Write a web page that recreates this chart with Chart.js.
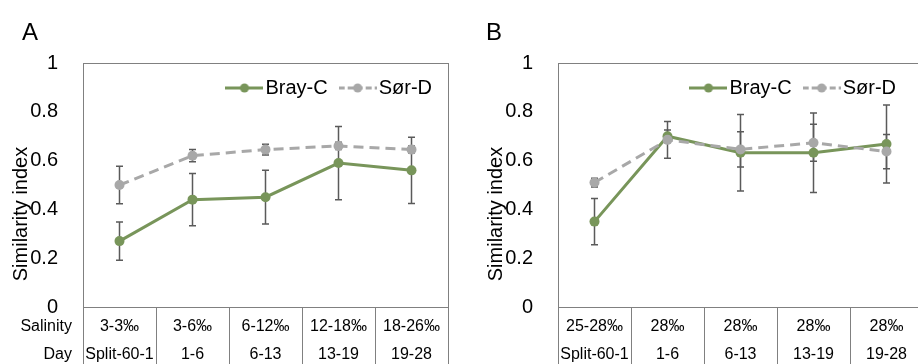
<!DOCTYPE html>
<html>
<head>
<meta charset="utf-8">
<script src="https://cdn.jsdelivr.net/npm/chart.js@4.4.0/dist/chart.umd.min.js"></script>
<style>
html,body{margin:0;padding:0;background:#fff;overflow:hidden;width:918px;height:364px;position:relative}
.panel{position:absolute;top:0;width:460px;height:364px}
.tag{position:absolute;top:20px;font:24px 'Liberation Sans',Arial,sans-serif;line-height:24px;color:#000}
</style>
</head>
<body>
<div class="panel" style="left:0"><canvas id="chartA" width="460" height="364"></canvas></div>
<div class="panel" style="left:475px"><canvas id="chartB" width="460" height="364"></canvas></div>
<div class="tag" style="left:22px">A</div>
<div class="tag" style="left:486px">B</div>
<script>
// data
const days = ['Split-60-1','1-6','6-13','13-19','19-28'];
const salinityA = ['3-3‰','3-6‰','6-12‰','12-18‰','18-26‰'];
const salinityB = ['25-28‰','28‰','28‰','28‰','28‰'];
const yTicks = [0,0.2,0.4,0.6,0.8,1];

const brayA = [0.27,0.44,0.45,0.59,0.56];
const brayAErr = [0.078,0.107,0.11,0.15,0.136];
const sorA = [0.50,0.62,0.645,0.66,0.645];
const sorAErr = [0.077,0.025,0.022,0.015,0.015];

const brayB = [0.35,0.70,0.632,0.632,0.668];
const brayBErr = [0.095,0.025,0.157,0.163,0.16];
const sorB = [0.51,0.685,0.646,0.673,0.637];
const sorBErr = [0.018,0.075,0.072,0.076,0.07];

const GREEN='#78955a', GREY='#a8a8a8', BAR='#5a5a5a', FRAME='#808080';
const FONT="'Liberation Sans', Arial, sans-serif";

function legendSymbol(color,dash){
 const c=document.createElement('canvas');
 c.width=38;c.height=12;
 const g=c.getContext('2d');
 g.strokeStyle=color;g.lineWidth=3;g.setLineDash(dash);
 g.beginPath();g.moveTo(0,6);g.lineTo(38,6);g.stroke();
 g.fillStyle=color;g.beginPath();g.arc(19,6,4.5,0,Math.PI*2);g.fill();
 return c;
}
const symbols=[legendSymbol(GREEN,[]),legendSymbol(GREY,[6,3])];

const errorBars={
 id:'errorBars',
 beforeDatasetsDraw(chart,args,opts){
  const ctx=chart.ctx, y=chart.scales.y;
  ctx.save();
  ctx.strokeStyle=BAR;ctx.lineWidth=1.5;
  chart.data.datasets.forEach((ds,i)=>{
   const errs=opts.errors[i];
   chart.getDatasetMeta(i).data.forEach((pt,j)=>{
    const v=ds.data[j], e=errs[j];
    const t=y.getPixelForValue(v+e), b=y.getPixelForValue(v-e), x=pt.x;
    ctx.beginPath();
    ctx.moveTo(x,t);ctx.lineTo(x,b);
    ctx.moveTo(x-3.5,t);ctx.lineTo(x+3.5,t);
    ctx.moveTo(x-3.5,b);ctx.lineTo(x+3.5,b);
    ctx.stroke();
   });
  });
  ctx.restore();
 }
};

const frame={
 id:'frame',
 beforeDatasetsDraw(chart){
  const a=chart.chartArea, ctx=chart.ctx;
  ctx.save();
  ctx.strokeStyle=FRAME;ctx.lineWidth=1;
  ctx.strokeRect(Math.round(a.left)+0.5,Math.round(a.top)+0.5,Math.round(a.right-a.left),Math.round(a.bottom-a.top));
  ctx.restore();
 },
 afterDraw(chart,args,opts){
  const ctx=chart.ctx, a=chart.chartArea, xs=chart.scales.x;
  ctx.save();
  ctx.fillStyle='#000';
  ctx.font='20px '+FONT;
  ctx.translate(21,214);
  ctx.rotate(-Math.PI/2);
  ctx.textAlign='center';ctx.textBaseline='middle';
  ctx.fillText('Similarity index',0,0);
  ctx.restore();

  // legend, top right inside the plot
  ctx.save();
  ctx.font='20px '+FONT;ctx.fillStyle='#000';
  ctx.textAlign='left';ctx.textBaseline='middle';
  let x=a.right-opts.legendRight;
  const ly=a.top+25;
  for(let i=chart.data.datasets.length-1;i>=0;i--){
   const txt=chart.data.datasets[i].label;
   const w=ctx.measureText(txt).width;
   x-=w;
   ctx.fillText(txt,x,ly);
   x-=2+symbols[i].width;
   ctx.drawImage(symbols[i],x,ly-6);
   x-=11;
  }
  ctx.restore();

  if(opts.rowLabels){
   ctx.save();
   ctx.fillStyle='#000';ctx.font='16px '+FONT;
   ctx.textAlign='right';ctx.textBaseline='middle';
   ctx.fillText('Salinity',a.left-11,xs.top+19.5);
   ctx.fillText('Day',a.left-11,xs.top+47.5);
   ctx.restore();
  }
 }
};

function makeChart(id,sal,bray,brayErr,sor,sorErr,rowLabels,legendRight){
 return new Chart(document.getElementById(id),{
  type:'line',
  data:{
   labels:days.map((d,i)=>[sal[i],d]),
   datasets:[
    {label:'Bray-C',data:bray,borderColor:GREEN,backgroundColor:GREEN,borderWidth:3,pointRadius:5,pointBorderWidth:0,pointBackgroundColor:GREEN,order:1},
    {label:'Sør-D',data:sor,borderColor:GREY,backgroundColor:GREY,borderWidth:3,borderDash:[10,6],pointRadius:5,pointBorderWidth:0,pointBackgroundColor:GREY,order:0}
   ]
  },
  options:{
   responsive:false,animation:false,
   layout:{padding:{top:63,right:12,bottom:0,left:0}},
   plugins:{
    tooltip:{enabled:false},
    legend:{display:false},
    errorBars:{errors:[brayErr,sorErr]},
    frame:{rowLabels:rowLabels,legendRight:legendRight}
   },
   scales:{
    x:{
     type:'category',offset:true,
     grid:{offset:true,drawOnChartArea:false,drawTicks:true,tickLength:60,color:FRAME,lineWidth:1},
     border:{display:false},
     ticks:{padding:-54.5,autoSkip:false,maxRotation:0,minRotation:0,color:'#000',font:{family:FONT,size:16,lineHeight:1.75}},
     afterFit(s){s.height=57;}
    },
    y:{
     min:0,max:1,
     grid:{display:false},border:{display:false},
     ticks:{padding:17,color:'#000',font:{family:FONT,size:20},callback:v=>String(v)},
     afterBuildTicks(s){s.ticks=yTicks.map(v=>({value:v}));},
     afterFit(s){s.width=83;}
    }
   }
  },
  plugins:[errorBars,frame]
 });
}

makeChart('chartA',salinityA,brayA,brayAErr,sorA,sorAErr,true,16);
makeChart('chartB',salinityB,brayB,brayBErr,sorB,sorBErr,false,27);
</script>
</body>
</html>
